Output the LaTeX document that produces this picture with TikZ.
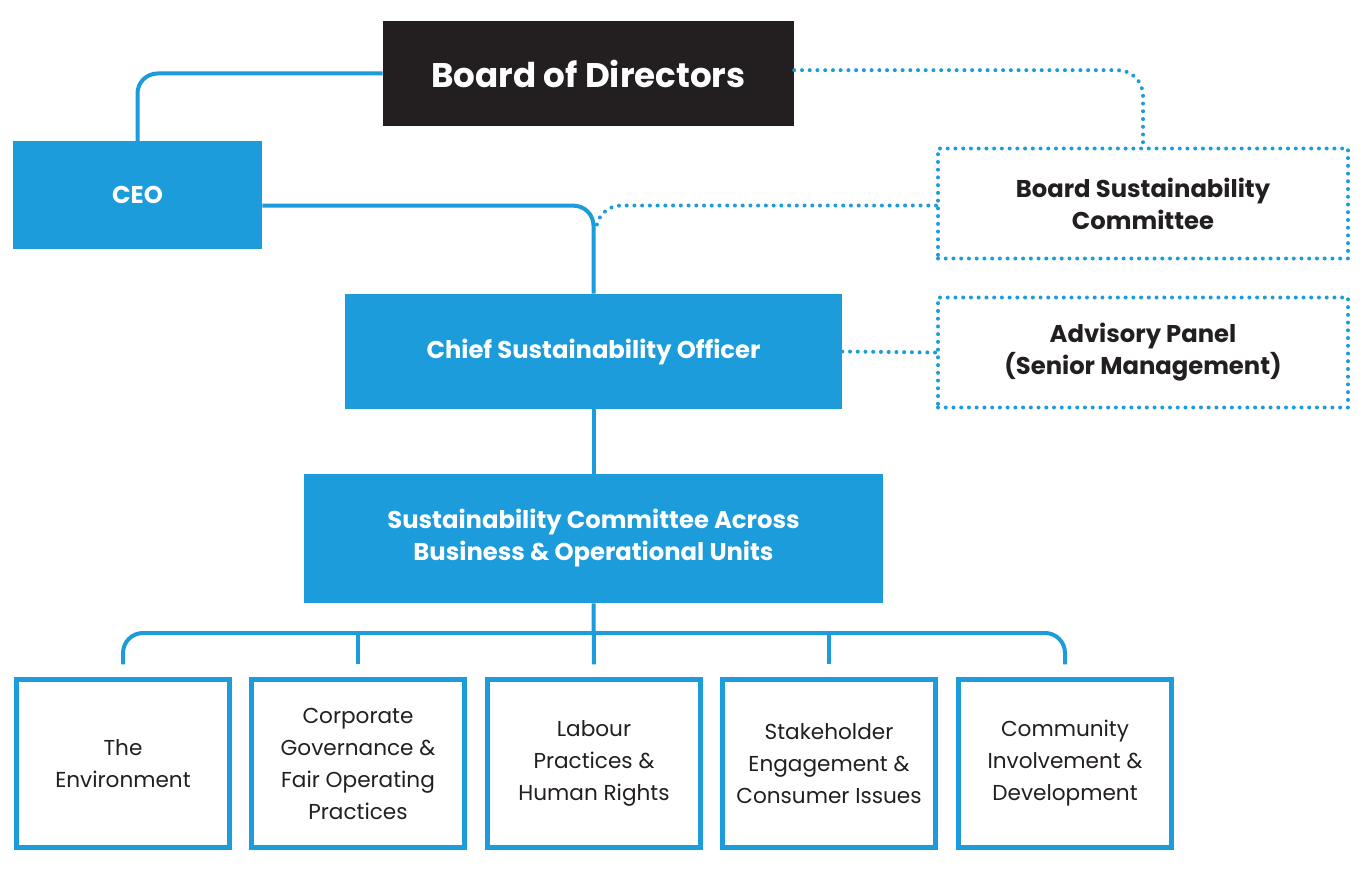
\documentclass[tikz,border=0pt]{standalone}
\usepackage{fontspec}
\setmainfont{Poppins}
\definecolor{sblue}{HTML}{1D9CDB}
\definecolor{sblack}{HTML}{231F20}
\tikzset{
  unitbox/.style={fill=sblue,text=white,font=\bfseries\fontsize{18.2}{24}\selectfont,align=center,inner sep=0pt},
  dotbox/.style={draw=sblue,line width=3pt,dash pattern=on 0pt off 5.8pt,line cap=round,text=sblack,font=\bfseries\fontsize{18.2}{24}\selectfont,align=center,minimum width=307.5pt,minimum height=82.5pt},
  areabox/.style={draw=sblue,line width=3.75pt,text=sblack,font=\fontsize{16.2}{24}\selectfont,align=center,minimum width=159.75pt,minimum height=126pt},
  link/.style={draw=sblue,line width=3pt,rounded corners=15pt},
  dots/.style={draw=sblue,line width=3pt,dash pattern=on 0pt off 5.8pt,line cap=round,rounded corners=19pt}
}
\begin{document}
\begin{tikzpicture}[x=0.75pt,y=-0.75pt]
    \useasboundingbox[fill=white] (0,0) rectangle (1366,888);
    %% boxes
    \node[fill=sblack,text=white,font=\bfseries\fontsize{25.6}{30}\selectfont,minimum width=308.25pt,minimum height=78.75pt] (board) at (588.5,73.5) {Board of Directors};
    \node[unitbox,minimum width=186.75pt,minimum height=80.25pt] (ceo) at (137.5,195) {CEO};
    \node[dotbox] (bsc) at (1143,203.5) {Board Sustainability\\Committee};
    \node[unitbox,minimum width=372.75pt,minimum height=86.25pt] (cso) at (593.5,351.5) {Chief Sustainability Officer};
    \node[dotbox] (panel) at (1143,352.5) {Advisory Panel\\(Senior Management)};
    \node[unitbox,minimum width=434.25pt,minimum height=96.75pt] (sc) at (593.5,538.5) {Sustainability Committee Across\\Business \& Operational Units};
    \foreach \x/\n/\t in {123/1/{The\\Environment},358/2/{Corporate\\Governance \&\\Fair Operating\\Practices},594/3/{Labour\\Practices \&\\Human Rights},829/4/{Stakeholder\\Engagement \&\\Consumer Issues},1065/5/{Community\\Involvement \&\\Development}} {
        \node[areabox] (area\n) at (\x,763.5) {\t};
        \coordinate (stub\n) at ([yshift=9.4pt]area\n.north);
    }
    \coordinate (bus) at (594,633);
    \coordinate (join) at (596,232);
    %% lines
    \draw[link] (board.west) -| (ceo.north);
    \draw[link] ([yshift=-8pt]ceo.east) -| (cso.north);
    \draw[link] (cso.south) -- (sc.north);
    \draw[link] (sc.south) -- (stub3);
    \draw[link] (stub1) |- (bus) -| (stub5);
    \draw[link] (stub2) -- (stub2 |- bus);
    \draw[link] (stub4) -- (stub4 |- bus);
    %% dotted links
    \draw[dots] ([yshift=2.5pt]board.east) -| (bsc.north);
    \draw[dots] ([yshift=-1.5pt]bsc.west) -| (join);
    \draw[dots] (cso.east) -- (panel.west);
\end{tikzpicture}
\end{document}
